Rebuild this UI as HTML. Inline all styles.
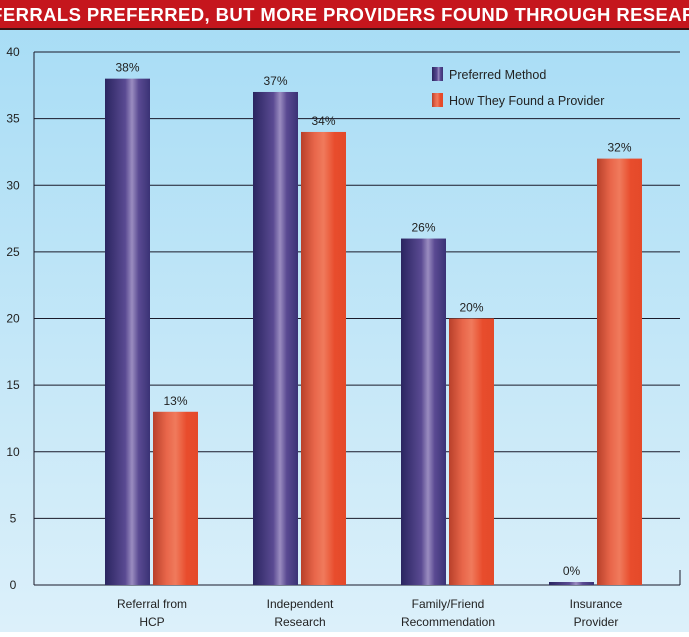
<!DOCTYPE html>
<html><head><meta charset="utf-8"><style>
body{margin:0;width:689px;height:632px;overflow:hidden;font-family:"Liberation Sans",sans-serif;}
</style></head><body>
<svg width="689" height="632" xmlns="http://www.w3.org/2000/svg">
<defs>
<linearGradient id="bg" x1="0" y1="0" x2="0" y2="1"><stop offset="0" stop-color="#a6dcf5"/><stop offset="1" stop-color="#dcf0fa"/></linearGradient>
<linearGradient id="pu" x1="0" y1="0" x2="1" y2="0"><stop offset="0" stop-color="#2a2560"/><stop offset="0.45" stop-color="#5a4a92"/><stop offset="0.6" stop-color="#9a8cc0"/><stop offset="0.75" stop-color="#5a4a92"/><stop offset="1" stop-color="#3a3275"/></linearGradient>
<linearGradient id="or" x1="0" y1="0" x2="1" y2="0"><stop offset="0" stop-color="#b8402a"/><stop offset="0.3" stop-color="#e8664a"/><stop offset="0.5" stop-color="#f07a5c"/><stop offset="0.75" stop-color="#e84c2c"/><stop offset="1" stop-color="#e44a2a"/></linearGradient>
</defs>
<rect x="0" y="0" width="689" height="632" fill="url(#bg)"/>
<rect x="0" y="0" width="689" height="28" fill="#c5161d"/>
<rect x="0" y="28" width="689" height="2" fill="#3a1010"/>
<text x="344" y="21" text-anchor="middle" fill="#fff" font-size="18.5" font-weight="bold" letter-spacing="0.4">REFERRALS PREFERRED, BUT MORE PROVIDERS FOUND THROUGH RESEARCH</text>
<g id="grid"></g><g id="bars"></g>
<g>
<rect x="432" y="67" width="11" height="14" fill="url(#pu)"/>
<text x="449" y="79" font-size="12.5" fill="#222">Preferred Method</text>
<rect x="432" y="93" width="11" height="14" fill="url(#or)"/>
<text x="449" y="105" font-size="12.5" fill="#222">How They Found a Provider</text>
</g>
</svg>
<script>
const categories=[["Referral from","HCP"],["Independent","Research"],["Family/Friend","Recommendation"],["Insurance","Provider"]];
const preferred=[38,37,26,0];
const found=[13,34,20,32];
const ticks=[0,5,10,15,20,25,30,35,40];
const NS="http://www.w3.org/2000/svg";
const y=v=>585-v*(533/40);
const xc=i=>152+148*i;
function mk(t,a,p){const e=document.createElementNS(NS,t);for(const k in a)e.setAttribute(k,a[k]);p.appendChild(e);return e;}
const g=document.getElementById('grid'),b=document.getElementById('bars');
ticks.forEach(t=>{
 const l=mk('line',{x1:34,x2:680,y1:y(t),y2:y(t),stroke:'#1a1a2a','stroke-width':1},g);
 
 
 const tx=mk('text',{x:13,y:y(t)+4,'text-anchor':'middle','font-size':12,fill:'#222'},g);
 tx.textContent=t;
 
 
});
const ax=mk('line',{x1:34,x2:34,y1:y(40),y2:y(0),stroke:'#1a1a2a'},g);


const rt=mk('line',{x1:680,x2:680,y1:570,y2:585,stroke:'#1a1a2a'},g);


categories.forEach((c,i)=>{
 [[preferred,'url(#pu)',-47,'preferred'],[found,'url(#or)',1,'found']].forEach(([arr,f,off,nm])=>{
  const v=arr[i],top=Math.min(y(v),582);
  const r=mk('rect',{x:xc(i)+off,y:top,width:45,height:585-top,fill:f},b);
  
  
  const t=mk('text',{x:xc(i)+off+22.5,y:top-7,'text-anchor':'middle','font-size':12,fill:'#222'},b);
  t.textContent=v+'%';
  
  
 });
 c.forEach((s,k)=>{
  const t=mk('text',{x:xc(i),y:608+k*18,'text-anchor':'middle','font-size':12,fill:'#222'},b);
  t.textContent=s;
  
  
 });
});
</script>
</body></html>
